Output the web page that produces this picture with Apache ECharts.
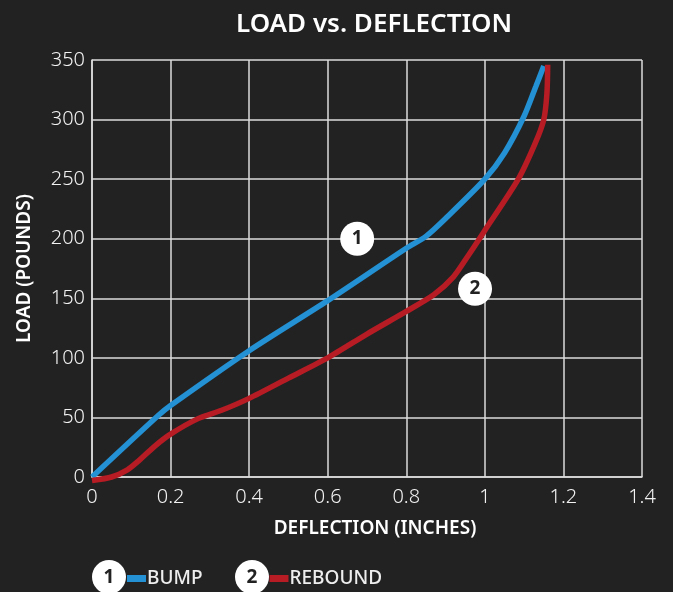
<!DOCTYPE html>
<html>
<head>
<meta charset="utf-8">
<style>
html, body { margin: 0; padding: 0; background: #222222; }
#chartmain { width: 673px; height: 592px; }
</style>
<script src="https://cdn.jsdelivr.net/npm/echarts@6/dist/echarts.min.js"></script>
</head>
<body>
<div id="chartmain"></div>
<script>
var bump = [[0, 0], [0.17, 52], [0.2, 60], [0.4, 106], [0.6, 148], [0.8, 192], [0.85, 202], [0.9, 217], [1, 250], [1.05, 272], [1.1, 303], [1.13, 328], [1.15, 345]];
var rebound = [[0, -3], [0.05, 0], [0.09, 6], [0.12, 14], [0.16, 26], [0.2, 36], [0.27, 49], [0.33, 56], [0.4, 66], [0.5, 83], [0.6, 100], [0.7, 120], [0.8, 139], [0.87, 153], [0.92, 168], [0.96, 187], [1, 207], [1.085, 250], [1.128, 280], [1.15, 300], [1.158, 322], [1.16, 346]];
var badges = [[0.675, 200, '1'], [0.975, 158, '2']];
var fontName = '"Noto Sans", sans-serif';

var option = {
	backgroundColor : '#222222',
	animation : false,
	title : {
		text : 'LOAD vs. DEFLECTION',
		left : 231,
		top : 7,
		textStyle : { color : '#fff', fontFamily : fontName, fontSize : 26, fontWeight : 600 }
	},
	grid : { left : 92, right : 31, top : 60, bottom : 115 },
	legend : {
		left : 122,
		top : 564,
		itemGap : 67,
		itemWidth : 19,
		itemHeight : 7,
		icon : 'rect',
		data : [ 'BUMP', 'REBOUND' ],
		textStyle : { color : '#eee', fontFamily : fontName, fontSize : 19, fontWeight : 500, padding : [ 0, 0, 0, -4 ] }
	},
	xAxis : {
		type : 'value',
		min : 0,
		max : 1.4,
		interval : 0.2,
		name : 'DEFLECTION (INCHES)',
		nameLocation : 'middle',
		nameGap : 42,
		nameTextStyle : { color : '#fff', fontFamily : fontName, fontSize : 19, fontWeight : 600, padding : [ 0, 0, 0, 16 ] },
		axisLine : { lineStyle : { color : '#ddd', width : 1.5 } },
		axisTick : { show : false },
		axisLabel : { color : '#f2f2f2', fontFamily : fontName, fontSize : 20, fontWeight : 300, margin : 10, showMaxLabel : true },
		splitLine : { lineStyle : { color : '#ddd', width : 1.5 } }
	},
	yAxis : {
		type : 'value',
		min : 0,
		max : 350,
		interval : 50,
		name : 'LOAD (POUNDS)',
		nameLocation : 'middle',
		nameGap : 58,
		nameTextStyle : { color : '#fff', fontFamily : fontName, fontSize : 19, fontWeight : 600 },
		axisLine : { show : true, lineStyle : { color : '#ddd', width : 1.5 } },
		axisTick : { show : false },
		axisLabel : { color : '#f2f2f2', fontFamily : fontName, fontSize : 20, fontWeight : 300, margin : 7 },
		splitLine : { lineStyle : { color : '#ddd', width : 1.5 } }
	},
	series : [ {
		name : 'BUMP',
		type : 'line',
		data : bump,
		smooth : 0.25,
		symbol : 'none',
		clip : false,
		itemStyle : { color : '#2391d3' },
		lineStyle : { color : '#2391d3', width : 5.5 }
	}, {
		name : 'REBOUND',
		type : 'line',
		data : rebound,
		smooth : 0.25,
		symbol : 'none',
		clip : false,
		itemStyle : { color : '#b71c25' },
		lineStyle : { color : '#b71c25', width : 5.5 }
	}, {
		name : 'badges',
		type : 'scatter',
		data : badges,
		symbolSize : 34,
		clip : false,
		itemStyle : { color : '#fff', opacity : 1 },
		label : {
			show : true,
			position : 'inside',
			formatter : function(p) { return p.value[2]; },
			color : '#222',
			fontFamily : fontName,
			fontSize : 19,
			fontWeight : 700
		}
	} ],
	graphic : [ {
		type : 'group',
		children : [ {
			type : 'circle', shape : { cx : 109, cy : 577, r : 17 }, style : { fill : '#fff' }
		}, {
			type : 'text', x : 109, y : 578, style : { text : '1', fill : '#222', font : '700 19px "Noto Sans", sans-serif', textAlign : 'center', textVerticalAlign : 'middle' }
		}, {
			type : 'circle', shape : { cx : 252, cy : 577, r : 17 }, style : { fill : '#fff' }
		}, {
			type : 'text', x : 252, y : 578, style : { text : '2', fill : '#222', font : '700 19px "Noto Sans", sans-serif', textAlign : 'center', textVerticalAlign : 'middle' }
		} ]
	} ]
};
var myChart = echarts.init(document.getElementById('chartmain'));
myChart.setOption(option);
</script>
</body>
</html>
